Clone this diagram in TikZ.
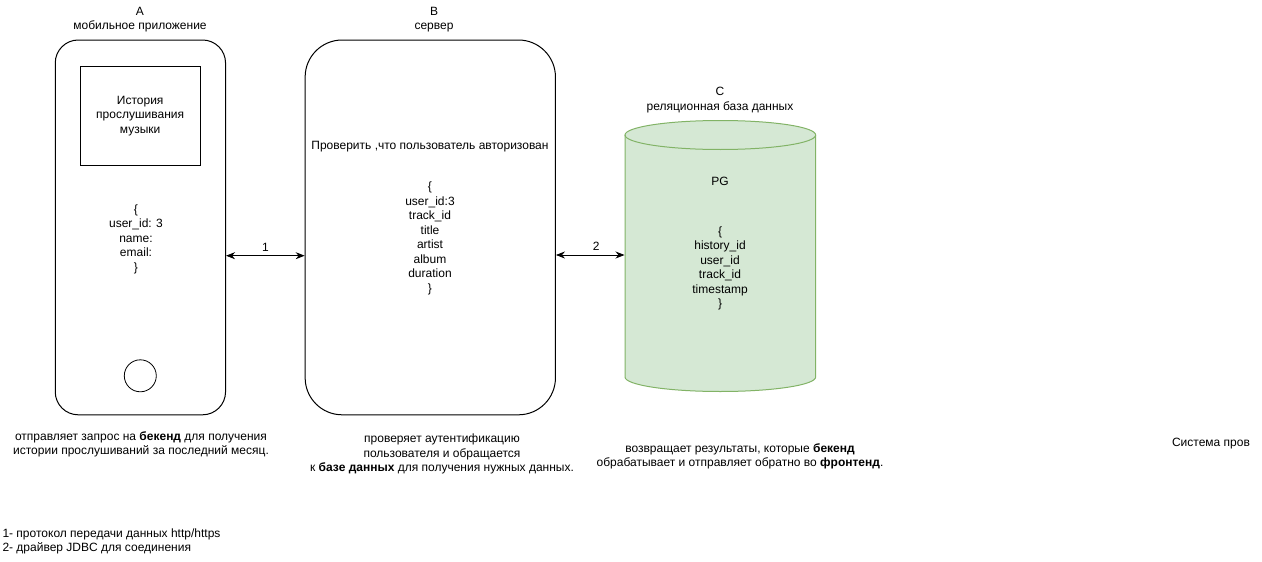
\documentclass[tikz,border=0pt]{standalone}
\usepackage{fontspec}
\setmainfont{Liberation Sans}
\usetikzlibrary{arrows.meta,calc}
\definecolor{dbfill}{HTML}{D5E8D4}
\definecolor{dbline}{HTML}{82B366}
\begin{document}
\begin{tikzpicture}[x=1pt,y=-1pt,line width=1pt,
  font=\fontsize{12}{14.5}\selectfont,
  txt/.style={align=center,inner sep=0pt},
  box/.style={draw,inner sep=0pt},
  arr/.style={{Stealth[length=9pt,width=7pt]}-{Stealth[length=9pt,width=7pt]},line width=0.8pt}]
\useasboundingbox (0,0) rectangle (1262,562);
\fill[white] (0,0) rectangle (1262,562);

% A: phone
\node[box,rounded corners=23pt,minimum width=170.3pt,minimum height=374.8pt] (A) at (140.4,227.4) {};
\node[box,minimum width=120.3pt,minimum height=99.7pt] (screen) at (140.2,115.9) {};
\node[txt] (screentxt) at (140.2,116) {История\\прослушивания\\музыки};
\node[draw,circle,minimum size=32pt,inner sep=0pt,line width=0.8pt] (btn) at (140.3,375.8) {};
\node[txt] (Atxt) at (136,239) {\{\\user\_id: 3\\name:\\email:\\\}};
\node[txt] (Alab) at (140,19.5) {A\\мобильное приложение};

% B: server
\node[box,rounded corners=37pt,minimum width=250.3pt,minimum height=374.8pt] (B) at (430.3,227.4) {};
\node[txt] (Blab) at (434,19.5) {B\\сервер};
\node[txt] (Bcheck) at (430,146.5) {Проверить ,что пользователь авторизован};
\node[txt] (Btxt) at (430,238.5) {\{\\user\_id:3\\track\_id\\title\\artist\\album\\duration\\\}};

% C: database cylinder
\node[inner sep=0pt,minimum width=190.7pt,minimum height=271pt] (C) at (720.35,256.2) {};
\fill[dbfill] (625,135) -- (625,377) arc[start angle=180,end angle=360,x radius=95.35pt,y radius=14.5pt] -- (815.7,135) -- cycle;
\filldraw[fill=dbfill,draw=dbline] (720.35,135) ellipse [x radius=95.35pt,y radius=14.5pt];
\draw[dbline] (625,135) -- (625,377) arc[start angle=180,end angle=360,x radius=95.35pt,y radius=14.5pt] -- (815.7,135);
\node[txt] (Clab) at (720,100) {C\\реляционная база данных};
\node[txt] (Cpg) at (720,181.5) {PG};
\node[txt] (Ctxt) at (720,268.5) {\{\\history\_id\\user\_id\\track\_id\\timestamp\\\}};

% connectors
\draw[arr] ([yshift=-28.3pt]A.east) -- ([yshift=-28.3pt]B.west) node[midway,above=4pt,inner sep=0pt] (l1) {1};
\draw[arr] ([yshift=-27.6pt]B.east) -- ([yshift=1.2pt]C.west) node[midway,above=4pt,inner sep=0pt,xshift=6pt] (l2) {2};

% descriptions
\node[txt] (dA) at (141,444.5) {отправляет запрос на \textbf{бекенд} для получения\\истории прослушиваний за последний месяц.};
\node[txt] (dB) at (442,454) {проверяет аутентификацию\\пользователя и обращается\\к \textbf{базе данных} для получения нужных данных.};
\node[txt] (dC) at (740,456.5) {возвращает результаты, которые \textbf{бекенд}\\обрабатывает и отправляет обратно во \textbf{фронтенд}.};
\node[txt] (sys) at (1211,443.3) {Система пров};

% legend
\node[txt,align=left,anchor=west] (leg) at (2,541.5) {1- протокол передачи данных http/https\\2- драйвер JDBC для соединения};
\end{tikzpicture}
\end{document}
